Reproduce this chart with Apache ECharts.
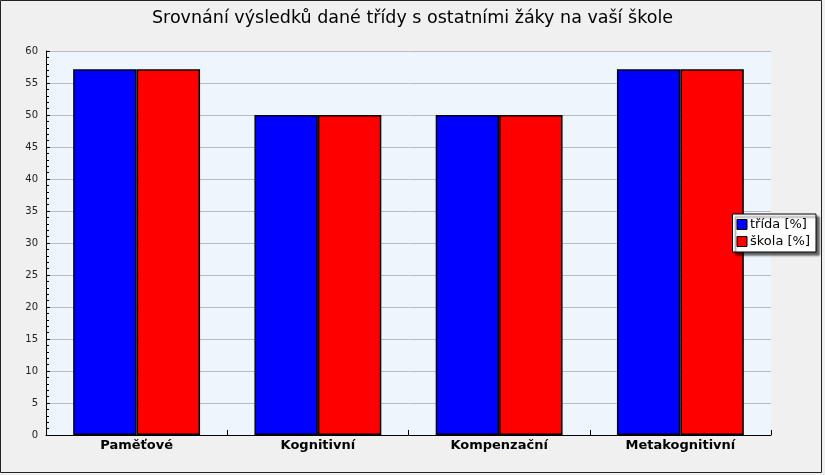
<!DOCTYPE html>
<html>
<head>
<meta charset="utf-8">
<script src="https://cdn.jsdelivr.net/npm/echarts@6/dist/echarts.min.js"></script>
<style>
html,body{margin:0;padding:0;background:#f0f0f0;}
#c{width:825px;height:475px;}
</style>
</head>
<body>
<div id="c"></div>
<script>
var titleText = 'Srovnání výsledků dané třídy s ostatními žáky na vaší škole';
var categories = ['Paměťové', 'Kognitivní', 'Kompenzační', 'Metakognitivní'];
var seriesNames = ['třída [%]', 'škola [%]'];
var tridaValues = [57.14, 50, 50, 57.14];
var skolaValues = [57.14, 50, 50, 57.14];
var yMin = 0, yMax = 60, yInterval = 5;

var chart = echarts.init(document.getElementById('c'), null, {renderer: 'canvas'});
var font = 'DejaVu Sans';
chart.setOption({
  backgroundColor: '#f0f0f0',
  animation: false,
  title: {
    text: titleText,
    left: 'center',
    top: 4,
    textStyle: {fontFamily: font, fontSize: 17.5, fontWeight: 'normal', color: '#000'}
  },
  legend: {
    orient: 'vertical',
    right: 9,
    top: 214,
    icon: 'rect',
    itemWidth: 10,
    itemHeight: 10,
    itemGap: 4,
    padding: [4, 6, 4, 4],
    backgroundColor: '#ffffff',
    borderColor: '#000',
    borderWidth: 1,
    shadowColor: 'rgba(0,0,0,0.6)',
    shadowOffsetX: 3,
    shadowOffsetY: 3,
    shadowBlur: 2,
    textStyle: {fontFamily: font, fontSize: 13, color: '#000', padding: [0, 0, 0, -2]},
    data: [
      {name: seriesNames[0], itemStyle: {borderColor: '#000', borderWidth: 1}},
      {name: seriesNames[1], itemStyle: {borderColor: '#000', borderWidth: 1}}
    ]
  },
  grid: {left: 46, right: 54, top: 51, bottom: 40, show: true, backgroundColor: '#eef5fc', borderWidth: 0},
  xAxis: {
    type: 'category',
    data: categories,
    axisLine: {lineStyle: {color: '#000', width: 1}},
    axisTick: {show: true, inside: true, length: 5, lineStyle: {color: '#000'}},
    axisLabel: {fontFamily: font, fontSize: 13, fontWeight: 'bold', color: '#000', margin: 4},
    splitLine: {show: false}
  },
  yAxis: {
    type: 'value',
    min: yMin, max: yMax, interval: yInterval,
    axisLine: {show: true, lineStyle: {color: '#000', width: 1}},
    axisTick: {show: true, inside: true, length: 4, lineStyle: {color: '#000'}},
    minorTick: {show: true, splitNumber: 5, length: 3, lineStyle: {color: '#000'}},
    axisLabel: {fontFamily: font, fontSize: 10, color: '#222', margin: 8},
    splitLine: {show: true, lineStyle: {color: '#b4bcc4', width: 1}}
  },
  series: [
    {
      name: seriesNames[0], type: 'bar', data: tridaValues,
      barGap: '0%', barCategoryGap: '30%',
      itemStyle: {color: '#0000ff', borderColor: '#000', borderWidth: 1.5}
    },
    {
      name: seriesNames[1], type: 'bar', data: skolaValues,
      itemStyle: {color: '#ff0000', borderColor: '#000', borderWidth: 1.5}
    }
  ],
  graphic: [
    {type: 'rect', shape: {x: 0.5, y: 0.5, width: 821, height: 472}, style: {fill: null, stroke: '#222', lineWidth: 1}, silent: true}
  ]
});
</script>
</body>
</html>
